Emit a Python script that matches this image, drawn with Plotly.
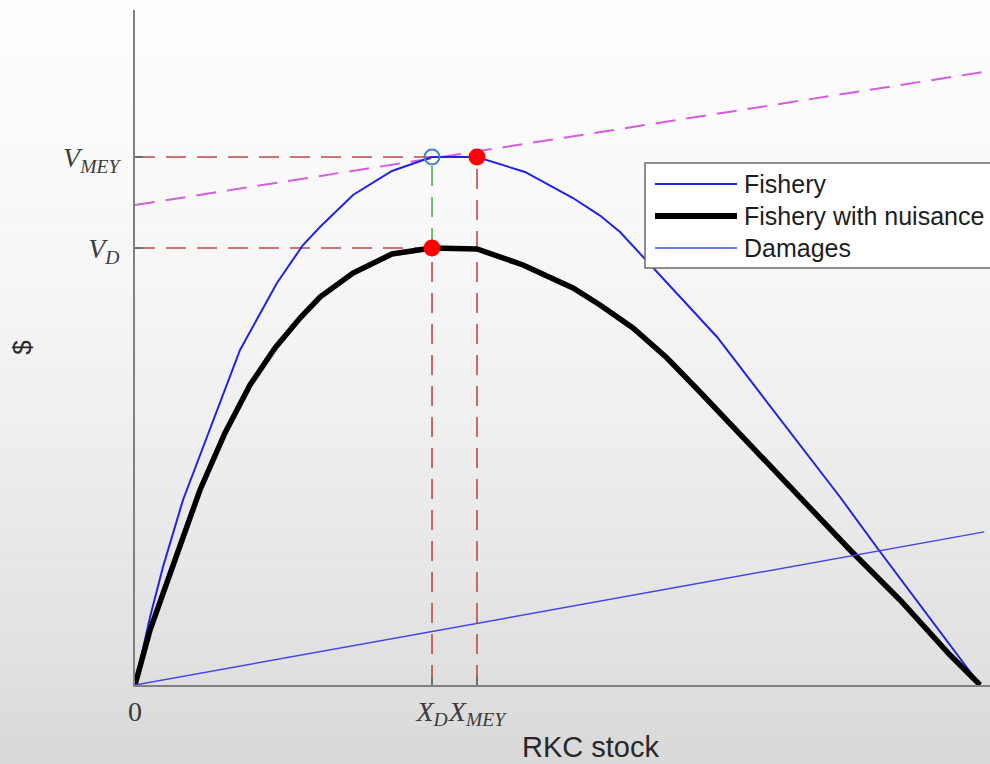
import plotly.graph_objects as go

# ---------------- data ----------------
stock_fishery = [0, 1.78, 3.31, 5.68, 7.93, 12.43, 16.80, 19.88, 21.89, 25.80, 30.41, 35.15,
                 40.47, 46.15, 51.83, 55.03, 57.40, 60.12, 64.85, 68.88, 72.78, 76.69,
                 80.71, 83.43, 87.93, 92.90, 97.99, 100]
value_fishery = [0, 12.88, 22.35, 35.04, 44.51, 63.45, 76.14, 83.33, 86.74, 92.80, 97.35, 100,
                 100, 97.16, 92.23, 88.90, 85.80, 81.06, 72.92, 65.91, 57.77, 49.62,
                 41.29, 35.61, 25.76, 15.15, 4.17, 0]

stock_nuisance = [0, 1.78, 4.73, 7.69, 10.65, 13.61, 16.57, 19.53, 21.89, 25.80, 30.41, 35.15,
                  40.47, 45.92, 51.83, 55.03, 58.93, 62.96, 66.86, 72.78, 78.70, 84.62,
                  90.53, 96.45, 100]
value_nuisance = [0, 10.42, 23.67, 36.93, 47.73, 56.82, 63.83, 69.51, 73.48, 78.03, 81.63, 82.77,
                  82.58, 79.55, 75.19, 71.97, 67.61, 61.93, 55.49, 45.45, 35.42, 25.57,
                  16.10, 5.68, 0]

stock_damages = [0, 100.5]
value_damages = [0, 29.0]

stock_tangent = [0, 101.2]
value_tangent = [90.9, 116.3]

X_D, X_MEY = 35.15, 40.47
V_D, V_MEY = 82.77, 100.0

x_tick_vals = [0, X_D, X_MEY]
x_tick_text = ["0", "<i>X</i><sub><i>D</i></sub>", "<i>X</i><sub><i>MEY</i></sub>"]
y_tick_vals = [V_D, V_MEY]
y_tick_text = ["<i>V</i><sub><i>D</i></sub>", "<i>V</i><sub><i>MEY</i></sub>"]

legend_names = ["Fishery", "Fishery with nuisance", "Damages"]

# ---------------- layout geometry ----------------
W, H = 990, 764
ML, MR, MT, MB = 135, 0, 10, 79
PW, PH = W - ML - MR, H - MT - MB
X_RANGE = [0, 101.18]
Y_RANGE = [0, 127.84]


def px_x(px):
    return (px - ML) / PW


def px_y(py):
    return (H - MB - py) / PH


RED = "rgb(192,72,72)"
GREEN = "rgb(80,175,80)"
MAGENTA = "rgb(214,92,222)"
BLUE = "rgb(34,34,226)"
DAMAGE_BLUE = "rgb(70,70,230)"
DASH = "20px,11px"

fig = go.Figure()

# reference (dashed) lines
fig.add_trace(go.Scatter(x=stock_tangent, y=value_tangent, mode="lines",
                         line=dict(color=MAGENTA, width=2, dash=DASH), showlegend=False, hoverinfo="skip"))
fig.add_trace(go.Scatter(x=[0, X_MEY], y=[V_MEY, V_MEY], mode="lines",
                         line=dict(color=RED, width=1.6, dash=DASH), showlegend=False, hoverinfo="skip"))
fig.add_trace(go.Scatter(x=[0, X_D], y=[V_D, V_D], mode="lines",
                         line=dict(color=RED, width=1.6, dash=DASH), showlegend=False, hoverinfo="skip"))
fig.add_trace(go.Scatter(x=[X_MEY, X_MEY], y=[0, V_MEY], mode="lines",
                         line=dict(color=RED, width=1.6, dash=DASH), showlegend=False, hoverinfo="skip"))
fig.add_trace(go.Scatter(x=[X_D, X_D], y=[0, V_D], mode="lines",
                         line=dict(color=RED, width=1.6, dash=DASH), showlegend=False, hoverinfo="skip"))
fig.add_trace(go.Scatter(x=[X_D, X_D], y=[V_D, V_MEY], mode="lines",
                         line=dict(color=GREEN, width=1.6, dash=DASH), showlegend=False, hoverinfo="skip"))

# main curves
fig.add_trace(go.Scatter(x=stock_fishery, y=value_fishery, mode="lines", name=legend_names[0],
                         line=dict(color=BLUE, width=2), showlegend=False))
fig.add_trace(go.Scatter(x=stock_nuisance, y=value_nuisance, mode="lines", name=legend_names[1],
                         line=dict(color="black", width=5.5), showlegend=False))
fig.add_trace(go.Scatter(x=stock_damages, y=value_damages, mode="lines", name=legend_names[2],
                         line=dict(color=DAMAGE_BLUE, width=1.5), showlegend=False))

# markers
fig.add_trace(go.Scatter(x=[X_D], y=[V_MEY], mode="markers", showlegend=False,
                         marker=dict(size=15, color="rgba(0,0,0,0)",
                                     line=dict(color="rgb(70,130,190)", width=2))))
fig.add_trace(go.Scatter(x=[X_MEY, X_D], y=[V_MEY, V_D], mode="markers", showlegend=False,
                         marker=dict(size=17, color="red", line=dict(width=0))))

# ---------------- background gradient ----------------
shapes = []
N = 60
for i in range(N):
    py0 = H * i / N
    py1 = H * (i + 1) / N
    t = (py0 + py1) / 2 / H
    v = int(round(253 - 36 * t ** 1.6))
    shapes.append(dict(type="rect", xref="paper", yref="paper",
                       x0=px_x(-5), x1=px_x(W + 5), y0=px_y(py1 + 0.5), y1=px_y(py0),
                       fillcolor=f"rgb({v},{v},{v})", line=dict(width=0), layer="below"))

# ---------------- manual legend ----------------
LX0, LX1, LY0, LY1 = 645, 1000, 163, 268
shapes.append(dict(type="rect", xref="paper", yref="paper",
                   x0=px_x(LX0), x1=px_x(LX1), y0=px_y(LY1), y1=px_y(LY0),
                   fillcolor="white", line=dict(color="rgb(110,110,110)", width=1.5), layer="above"))
legend_styles = [(BLUE, 2), ("black", 6), (DAMAGE_BLUE, 1.5)]
annotations = []
for k, (name, (col, wid)) in enumerate(zip(legend_names, legend_styles)):
    yy = 184 + 32 * k
    shapes.append(dict(type="line", xref="paper", yref="paper",
                       x0=px_x(655), x1=px_x(737), y0=px_y(yy), y1=px_y(yy),
                       line=dict(color=col, width=wid), layer="above"))
    annotations.append(dict(xref="paper", yref="paper", x=px_x(742), y=px_y(yy),
                            xanchor="left", yanchor="middle", showarrow=False, text=name,
                            font=dict(family="Liberation Sans, Arial", size=25, color="rgb(30,30,30)")))

annotations.append(dict(xref="paper", yref="paper", x=px_x(590), y=px_y(747),
                        xanchor="center", yanchor="middle", showarrow=False, text="RKC stock",
                        font=dict(family="Liberation Sans, Arial", size=29, color="rgb(40,40,40)")))

MATH_FONT = dict(family="Liberation Serif, Times New Roman, serif", size=28, color="rgb(60,60,60)")

fig.update_layout(
    width=W, height=H,
    margin=dict(l=ML, r=MR, t=MT, b=MB, pad=0),
    paper_bgcolor="white", plot_bgcolor="rgba(0,0,0,0)",
    shapes=shapes, annotations=annotations,
    showlegend=False,
    xaxis=dict(range=X_RANGE, showgrid=False, zeroline=False, showline=True,
               linecolor="rgb(128,128,128)", linewidth=2,
               tickmode="array", tickvals=x_tick_vals, ticktext=x_tick_text,
               ticks="inside", ticklen=8, tickwidth=1.5, tickcolor="rgb(110,110,110)",
               tickangle=0, tickfont=MATH_FONT, fixedrange=True),
    yaxis=dict(range=Y_RANGE, showgrid=False, zeroline=False, showline=True,
               linecolor="rgb(128,128,128)", linewidth=2,
               tickmode="array", tickvals=y_tick_vals, ticktext=y_tick_text,
               ticks="inside", ticklen=8, tickwidth=1.5, tickcolor="rgb(110,110,110)",
               tickfont=MATH_FONT, ticklabelstandoff=8,
               title=dict(text="$", font=dict(family="Liberation Sans, Arial", size=26,
                                              color="rgb(40,40,40)"), standoff=24),
               fixedrange=True),
)

fig.write_html("out.html", config={"displayModeBar": False})

# remove the default page margin so the figure sits at the window's top-left corner
with open("out.html", "r", encoding="utf-8") as f:
    html = f.read()
html = html.replace("<head>", "<head><style>html,body{margin:0;padding:0;overflow:hidden;}</style>", 1)
with open("out.html", "w", encoding="utf-8") as f:
    f.write(html)
